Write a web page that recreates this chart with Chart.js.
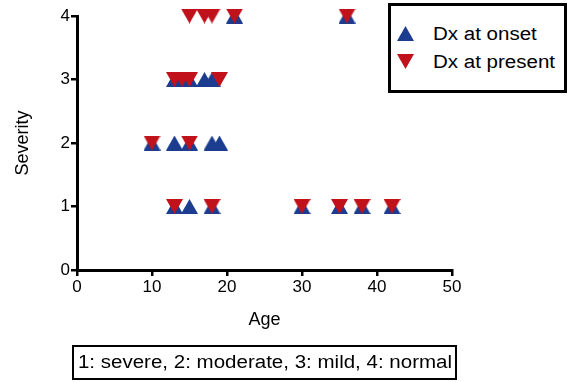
<!DOCTYPE html>
<html>
<head>
<meta charset="utf-8">
<script src="https://cdn.jsdelivr.net/npm/chart.js@4/dist/chart.umd.min.js"></script>
<style>
  html, body { margin: 0; padding: 0; background: #ffffff; }
  #wrap { position: relative; width: 573px; height: 382px; font-family: "Liberation Sans", Arial, sans-serif; }
  #c { position: absolute; left: 0; top: 0; }
  #legend { position: absolute; left: 388px; top: 3px; width: 173px; height: 84px; border: 3px solid #000; background: #fff; }
  .li { position: absolute; left: 0; height: 24px; line-height: 24px; font-size: 18px; color: #000; white-space: nowrap; }
  .li canvas { position: absolute; left: 6px; top: 4px; }
  .li span { position: absolute; left: 42px; transform: scaleX(1.14); transform-origin: 0 50%; }
  #caption { position: absolute; left: 72px; top: 345px; width: 381px; height: 31px; border: 2px solid #000; color: #000; white-space: nowrap; }
  #caption span { position: absolute; left: 50%; top: 0; line-height: 31px; font-size: 18px; transform: translateX(-50%) scaleX(1.14); }
</style>
</head>
<body>
<div id="wrap">
  <canvas id="c" width="573" height="382"></canvas>
  <div id="legend"></div>
  <div id="caption"><span id="captxt"></span></div>
</div>
<script>
// ---- data ----
const seriesNames = ["Dx at onset", "Dx at present"];
const onsetAge      = [21, 36, 13, 14, 15, 17, 18, 10, 13, 15, 18, 19, 13, 15, 18, 30, 35, 38, 42];
const onsetSeverity = [ 4,  4,  3,  3,  3,  3,  3,  2,  2,  2,  2,  2,  1,  1,  1,  1,  1,  1,  1];
const presentAge      = [15, 17, 18, 21, 36, 13, 14, 15, 19, 10, 15, 13, 18, 30, 35, 38, 42];
const presentSeverity = [ 4,  4,  4,  4,  4,  3,  3,  3,  3,  2,  2,  1,  1,  1,  1,  1,  1];
const xTicks = [0, 10, 20, 30, 40, 50];
const yTicks = [0, 1, 2, 3, 4];
const xTitle = "Age";
const yTitle = "Severity";
const captionText = "1: severe, 2: moderate, 3: mild, 4: normal";

const BLUE = "#1b3c8f";
const RED = "#c1121c";

function triangle(color, down, w, h) {
  const cv = document.createElement("canvas");
  cv.width = w; cv.height = h;
  const g = cv.getContext("2d");
  g.fillStyle = color;
  g.beginPath();
  if (down) { g.moveTo(0, 0); g.lineTo(w, 0); g.lineTo(w / 2, h); }
  else { g.moveTo(w / 2, 0); g.lineTo(w, h); g.lineTo(0, h); }
  g.closePath();
  g.fill();
  return cv;
}
const upTri = triangle(BLUE, false, 17, 15);
const downTri = triangle(RED, true, 17, 15);

function pts(xs, ys) { return xs.map((x, i) => ({ x: x, y: ys[i] })); }

const FONT = "'Liberation Sans', Arial, sans-serif";

new Chart(document.getElementById("c"), {
  type: "scatter",
  data: {
    datasets: [
      { label: seriesNames[0], data: pts(onsetAge, onsetSeverity), pointStyle: upTri, backgroundColor: BLUE, borderColor: BLUE, order: 1, clip: false },
      { label: seriesNames[1], data: pts(presentAge, presentSeverity), pointStyle: downTri, backgroundColor: RED, borderColor: RED, order: 0, clip: false }
    ]
  },
  options: {
    responsive: false,
    animation: false,
    events: [],
    layout: { padding: { left: 0, top: 16, right: 121, bottom: 50 } },
    plugins: { legend: { display: false }, tooltip: { enabled: false } },
    scales: {
      x: {
        type: "linear", min: 0, max: 50,
        afterBuildTicks: s => { s.ticks = xTicks.map(v => ({ value: v })); },
        afterFit: s => { s.height = 62; },
        grid: { drawOnChartArea: false, drawTicks: true, tickLength: 6, color: "#000", lineWidth: 2.5 },
        border: { display: true, color: "#000", width: 3 },
        ticks: { color: "#000", font: { family: FONT, size: 17 }, padding: 1, maxRotation: 0 },
        title: { display: true, text: xTitle, color: "#000", font: { family: FONT, size: 18 }, padding: { top: 0, bottom: 1 } }
      },
      y: {
        type: "linear", min: 0, max: 4,
        afterBuildTicks: s => { s.ticks = yTicks.map(v => ({ value: v })); },
        afterFit: s => { s.width = 77; },
        grid: { drawOnChartArea: false, drawTicks: true, tickLength: 6, color: "#000", lineWidth: 2.5 },
        border: { display: true, color: "#000", width: 3 },
        ticks: { color: "#000", font: { family: FONT, size: 17 }, padding: 1 },
        title: { display: true, text: yTitle, color: "#000", font: { family: FONT, size: 18 }, padding: { top: 12, bottom: 0 } }
      }
    }
  }
});

// legend and caption as real text
const legend = document.getElementById("legend");
[[upTri, 28], [downTri, 56]].forEach((it, i) => {
  const row = document.createElement("div");
  row.className = "li";
  row.style.top = (it[1] - 12) + "px";
  row.style.width = "170px";
  const c2 = triangle(i === 0 ? BLUE : RED, i === 1, 17, 15);
  row.appendChild(c2);
  const sp = document.createElement("span");
  sp.textContent = seriesNames[i];
  row.appendChild(sp);
  legend.appendChild(row);
});
document.getElementById("captxt").textContent = captionText;
</script>
</body>
</html>
